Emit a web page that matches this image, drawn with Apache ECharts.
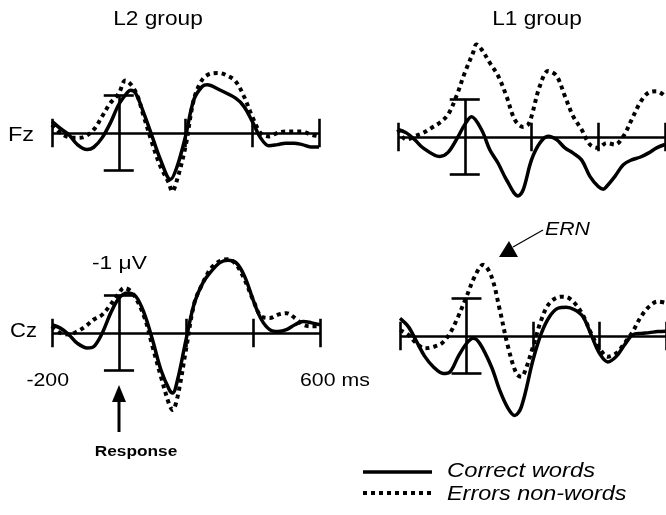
<!DOCTYPE html>
<html><head><meta charset="utf-8">
<script src="https://cdn.jsdelivr.net/npm/echarts@6/dist/echarts.min.js"></script>
<style>html,body{margin:0;padding:0;background:#fff}#c{width:666px;height:515px}</style>
</head><body><div id="c"></div>
<script>
// Time window (ms) and axis decorations
const timeRange = [-200, 600];
const tickTimes = [-200, 200, 400, 600];
const scaleBarUV = 1; // scale bar: -1 µV to +1 µV at response onset

// Panel titles / electrode labels
const groupTitles = ['L2 group', 'L1 group'];
const electrodes = ['Fz', 'Cz'];
const seriesNames = ['Correct words', 'Errors non-words'];

// [time ms, amplitude µV]  (negative = up)
const l2FzCorrect = [[-200,-0.31],[-175,-0.12],[-150,0.04],[-125,0.3],[-95,0.44],[-75,0.38],[-50,0.13],[-25,-0.27],[0,-0.76],[25,-1.07],[35,-1.14],[50,-1.07],[75,-0.53],[100,0.09],[125,0.71],[155,1.24],[175,0.89],[200,0.09],[225,-0.89],[250,-1.24],[265,-1.29],[300,-1.16],[350,-0.93],[375,-0.71],[400,-0.31],[425,0.13],[450,0.34],[475,0.31],[500,0.27],[525,0.27],[550,0.31],[575,0.37],[600,0.37]];
const l2FzError = [[-200,-0.22],[-175,0],[-150,0.11],[-125,0.13],[-100,0.09],[-75,-0.09],[-50,-0.44],[-25,-0.8],[0,-1.05],[20,-1.4],[50,-1.11],[75,-0.44],[100,0.27],[125,0.89],[150,1.33],[160,1.56],[175,1.24],[200,0.36],[225,-0.89],[250,-1.42],[275,-1.58],[300,-1.6],[325,-1.53],[350,-1.38],[375,-0.98],[400,-0.44],[425,0],[450,0.09],[475,0],[500,-0.04],[525,-0.04],[550,-0.04],[575,0.04],[600,0.09]];
const l1FzCorrect = [[-200,-0.2],[-175,-0.11],[-150,0.07],[-125,0.29],[-75,0.52],[-50,0.41],[-25,0.07],[0,-0.33],[20,-0.54],[50,-0.2],[75,0.34],[100,0.7],[125,1.14],[160,1.57],[175,1.41],[200,0.61],[225,0.16],[250,-0.02],[275,0.07],[300,0.29],[325,0.43],[350,0.61],[375,1.05],[400,1.32],[415,1.39],[425,1.32],[450,1.05],[475,0.74],[500,0.61],[525,0.54],[550,0.43],[575,0.29],[600,0.2]];
const l1FzError = [[-200,-0.2],[-175,0.07],[-150,-0.02],[-125,-0.11],[-100,-0.24],[-75,-0.38],[-50,-0.6],[-25,-1.09],[0,-1.71],[25,-2.25],[35,-2.47],[50,-2.34],[75,-1.98],[100,-1.63],[125,-1.09],[150,-0.46],[175,-0.27],[190,-0.33],[200,-0.55],[225,-1.36],[250,-1.76],[275,-1.63],[300,-1.09],[325,-0.55],[350,-0.2],[375,0.2],[400,0.29],[425,0.16],[450,0.2],[475,-0.02],[500,-0.46],[525,-0.91],[550,-1.18],[575,-1.22],[600,-1.09]];
const l2CzCorrect = [[-200,-0.22],[-175,-0.13],[-150,0.04],[-125,0.27],[-95,0.4],[-75,0.36],[-50,0],[-25,-0.53],[0,-0.93],[25,-1.07],[50,-0.98],[75,-0.53],[100,0.18],[125,0.98],[150,1.51],[160,1.6],[175,1.24],[200,0.18],[225,-0.8],[250,-1.33],[275,-1.64],[300,-1.87],[325,-1.94],[350,-1.87],[375,-1.51],[400,-0.89],[425,-0.36],[450,-0.09],[475,-0.04],[500,-0.09],[525,-0.22],[550,-0.31],[575,-0.27],[600,-0.22]];
const l2CzError = [[-200,-0.18],[-175,0],[-150,0.04],[-125,-0.04],[-100,-0.18],[-75,-0.36],[-50,-0.49],[-25,-0.76],[0,-1.07],[15,-1.2],[40,-1.07],[75,-0.44],[100,0.36],[125,1.16],[150,1.91],[160,2.05],[175,1.69],[200,0.44],[225,-0.8],[250,-1.33],[275,-1.73],[300,-1.91],[325,-1.97],[350,-1.82],[375,-1.42],[400,-0.89],[425,-0.44],[450,-0.4],[475,-0.49],[500,-0.53],[525,-0.4],[550,-0.22],[575,-0.18],[600,-0.18]];
const l1CzCorrect = [[-200,-0.47],[-175,-0.25],[-150,0.15],[-125,0.55],[-100,0.82],[-70,1.0],[-50,0.96],[-25,0.55],[0,0.2],[20,0.06],[40,0.2],[75,0.82],[100,1.45],[125,1.93],[145,2.12],[165,1.89],[200,0.64],[225,-0.07],[250,-0.52],[275,-0.74],[300,-0.77],[325,-0.7],[350,-0.52],[375,-0.03],[400,0.46],[425,0.69],[450,0.55],[475,0.24],[500,-0.03],[525,-0.07],[550,-0.09],[575,-0.12],[600,-0.13]];
const l1CzError = [[-200,-0.16],[-175,-0.03],[-150,0.2],[-125,0.33],[-100,0.29],[-75,0.2],[-50,-0.07],[-25,-0.52],[0,-1.05],[25,-1.59],[50,-1.9],[75,-1.59],[100,-0.7],[125,0.29],[150,1.0],[165,1.09],[175,0.96],[200,0.29],[225,-0.43],[250,-0.88],[285,-1.05],[300,-1.04],[325,-0.88],[350,-0.56],[375,-0.07],[400,0.33],[425,0.55],[450,0.46],[475,0.2],[500,-0.12],[525,-0.52],[550,-0.79],[575,-0.92],[600,-0.88]];

const panels = [
  {correct: l2FzCorrect, error: l2FzError, grid: {left: 52, top: 20.5, width: 267, height: 225}},
  {correct: l1FzCorrect, error: l1FzError, grid: {left: 398, top: 24.5, width: 267, height: 225}},
  {correct: l2CzCorrect, error: l2CzError, grid: {left: 52, top: 220.5, width: 268, height: 225}},
  {correct: l1CzCorrect, error: l1CzError, grid: {left: 400, top: 223.5, width: 267, height: 225}}
];

const FONT = '"Liberation Sans", Arial, sans-serif';
const grids = [], xAxes = [], yAxes = [], series = [];
const capHalf = 45;   // ms, half width of scale-bar caps
const tickHalf = 0.38; // µV, half length of time ticks

panels.forEach((p, i) => {
  grids.push(Object.assign({containLabel: false}, p.grid));
  xAxes.push({gridIndex: i, type: 'value', min: timeRange[0], max: timeRange[1], show: false});
  yAxes.push({gridIndex: i, type: 'value', min: -3, max: 3, inverse: true, show: false});
  const segs = [];
  segs.push([{coord: [timeRange[0], 0]}, {coord: [timeRange[1], 0]}]);
  tickTimes.forEach(t => segs.push([{coord: [t, -tickHalf]}, {coord: [t, tickHalf]}]));
  segs.push([{coord: [0, -scaleBarUV]}, {coord: [0, scaleBarUV]}]);
  segs.push([{coord: [-capHalf, -scaleBarUV]}, {coord: [capHalf, -scaleBarUV]}]);
  segs.push([{coord: [-capHalf, scaleBarUV]}, {coord: [capHalf, scaleBarUV]}]);
  series.push({
    type: 'line', xAxisIndex: i, yAxisIndex: i, data: [], silent: true,
    markLine: {symbol: 'none', silent: true, animation: false, label: {show: false},
      lineStyle: {color: '#000', width: 2.6, type: 'solid', cap: 'butt'}, data: segs}
  });
  series.push({
    name: seriesNames[1], type: 'line', xAxisIndex: i, yAxisIndex: i, data: p.error,
    smooth: 0.35, showSymbol: false, symbol: 'none', silent: true, clip: false,
    lineStyle: {color: '#000', width: 4, type: [4, 4], cap: 'butt'}, z: 3
  });
  series.push({
    name: seriesNames[0], type: 'line', xAxisIndex: i, yAxisIndex: i, data: p.correct,
    smooth: 0.35, showSymbol: false, symbol: 'none', silent: true, clip: false,
    lineStyle: {color: '#000', width: 3.5, type: 'solid'}, z: 4
  });
});

const txt = (x, y, text, font, sx, align) => ({type: 'text', x: x, y: y, scaleX: sx || 1,
  style: {text: text, font: font, fill: '#000', textAlign: align || 'left', textVerticalAlign: 'middle'}, z: 10});

const graphic = [
  txt(158, 19, groupTitles[0], '21px ' + FONT, 1.08, 'center'),
  txt(537, 19, groupTitles[1], '21px ' + FONT, 1.08, 'center'),
  txt(8, 135, electrodes[0], '21px ' + FONT, 1.12),
  txt(10, 331, electrodes[1], '21px ' + FONT, 1.05),
  txt(92, 264, '-1 μV', '19px ' + FONT, 1.2),
  txt(69, 381, '-200', '19px ' + FONT, 1.12, 'right'),
  txt(300, 381, '600 ms', '19px ' + FONT, 1.12),
  txt(136, 452, 'Response', 'bold 15px ' + FONT, 1.15, 'center'),
  txt(545, 230, 'ERN', 'italic 19px ' + FONT, 1.12),
  {type: 'line', shape: {x1: 543, y1: 230, x2: 513, y2: 247}, style: {stroke: '#000', lineWidth: 1.2}},
  {type: 'polygon', shape: {points: [[509, 241], [499, 257], [518, 257]]}, style: {fill: '#000'}},
  {type: 'line', shape: {x1: 119, y1: 400, x2: 119, y2: 432}, style: {stroke: '#000', lineWidth: 3}},
  {type: 'polygon', shape: {points: [[119, 385], [112, 402], [126, 402]]}, style: {fill: '#000'}},
  {type: 'line', shape: {x1: 363, y1: 472, x2: 432, y2: 472}, style: {stroke: '#000', lineWidth: 3.5}},
  {type: 'line', shape: {x1: 363, y1: 493, x2: 432, y2: 493}, style: {stroke: '#000', lineWidth: 4, lineDash: [4, 4]}},
  txt(447, 471, seriesNames[0], 'italic 20px ' + FONT, 1.19),
  txt(447, 494, seriesNames[1], 'italic 20px ' + FONT, 1.17)
];

const chart = echarts.init(document.getElementById('c'), null, {renderer: 'canvas'});
chart.setOption({
  animation: false,
  backgroundColor: '#fff',
  grid: grids, xAxis: xAxes, yAxis: yAxes, series: series,
  graphic: graphic
});
</script></body></html>
